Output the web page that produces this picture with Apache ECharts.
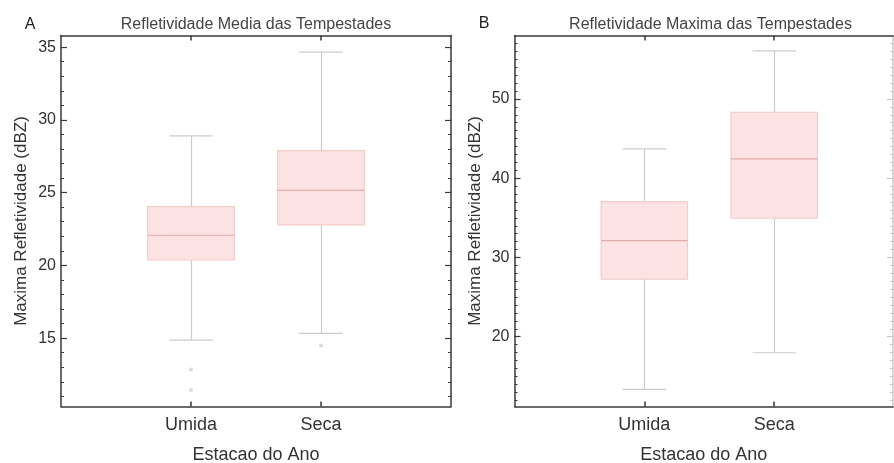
<!DOCTYPE html>
<html><head><meta charset="utf-8">
<script src="https://cdn.jsdelivr.net/npm/echarts@6/dist/echarts.min.js"></script>
<style>html,body{margin:0;padding:0;background:#fff}#c{width:894px;height:463px}</style>
</head><body><div id="c"></div>
<script>
// ---- data ----
const categories = ['Umida', 'Seca'];
const categoryPositions = [1, 2];
// [min, Q1, median, Q3, max]
const mediaUmida = [14.86, 20.37, 22.07, 24.04, 28.9];
const mediaSeca = [15.32, 22.78, 25.16, 27.89, 34.66];
const mediaOutliers = [[1, 12.85], [1, 11.43], [2, 14.5]];
const maximaUmida = [13.35, 27.26, 32.12, 37.05, 43.7];
const maximaSeca = [17.98, 34.95, 42.44, 48.32, 56.06];
const maximaOutliers = [];
const yTicksA = [15, 20, 25, 30, 35];
const yTicksB = [20, 30, 40, 50];
const titleA = 'Refletividade Media das Tempestades';
const titleB = 'Refletividade Maxima das Tempestades';
const xName = 'Estacao do Ano';
const yName = 'Maxima Refletividade (dBZ)';

function intRange(a, b) { const r = []; for (let i = a; i <= b; i++) r.push(i); return r; }
const yMinorA = intRange(11, 35);
const yMinorB = intRange(12, 57);

// ---- style ----
const font = 'Liberation Sans, Arial, Helvetica, sans-serif';
const frame = '#3a3a3a';
const boxFill = '#fde3e3';
const boxStroke = '#f3cccc';
const medianColor = '#e2adad';
const whiskerColor = '#cccccc';

function xAxes(gridIndex, max) {
  const base = {
    type: 'value', gridIndex, min: 0, max,
    axisLine: { show: true, onZero: false, lineStyle: { color: frame, width: 1.5 } },
    axisTick: { show: true, inside: true, length: 5, customValues: categoryPositions, lineStyle: { color: frame, width: 1.5 } },
    splitLine: { show: false }
  };
  return [
    Object.assign({}, base, {
      position: 'bottom',
      axisLabel: {
        show: true, customValues: categoryPositions, margin: 10,
        formatter: v => { const i = categoryPositions.indexOf(v); return i >= 0 ? categories[i] : ''; },
        fontSize: 18, color: '#333', fontFamily: font
      },
      name: xName, nameLocation: 'middle', nameGap: 40,
      nameTextStyle: { fontSize: 18, color: '#333', fontFamily: font }
    }),
    Object.assign({}, base, { position: 'top', axisLabel: { show: false } })
  ];
}

function yAxes(gridIndex, min, max, majors, minors, rightColor) {
  const common = { type: 'value', gridIndex, min, max, splitLine: { show: false } };
  return [
    Object.assign({}, common, {
      position: 'left',
      axisLine: { show: true, onZero: false, lineStyle: { color: frame, width: 1.5 } },
      axisTick: { show: true, inside: true, length: 6, customValues: majors, lineStyle: { color: frame, width: 1.2 } },
      axisLabel: { show: true, customValues: majors, margin: 5, fontSize: 16, color: '#333', fontFamily: font },
      name: yName, nameLocation: 'middle', nameGap: 31,
      nameTextStyle: { fontSize: 17, color: '#333', fontFamily: font }
    }),
    Object.assign({}, common, {
      position: 'left',
      axisLine: { show: false, onZero: false },
      axisTick: { show: true, inside: true, length: 3, customValues: minors, lineStyle: { color: frame, width: 1 } },
      axisLabel: { show: false }
    }),
    Object.assign({}, common, {
      position: 'right',
      axisLine: { show: true, onZero: false, lineStyle: { color: rightColor, width: 1.5 } },
      axisTick: { show: true, inside: true, length: 6, customValues: majors, lineStyle: { color: rightColor, width: 1.2 } },
      axisLabel: { show: false }
    }),
    Object.assign({}, common, {
      position: 'right',
      axisLine: { show: false, onZero: false },
      axisTick: { show: true, inside: true, length: 3, customValues: minors, lineStyle: { color: rightColor, width: 1 } },
      axisLabel: { show: false }
    })
  ];
}

const BOX_HALF = 0.333;
const CAP_HALF = 0.167;
function renderBox(params, api) {
  const x = api.value(0);
  const lo = api.value(1), q1 = api.value(2), med = api.value(3), q3 = api.value(4), hi = api.value(5);
  const c = api.coord([x, med]);
  const cx = Math.round(c[0]) + 0.5;
  const yLo = api.coord([x, lo])[1], yQ1 = api.coord([x, q1])[1], yMed = c[1];
  const yQ3 = api.coord([x, q3])[1], yHi = api.coord([x, hi])[1];
  const bl = api.coord([x - BOX_HALF, med])[0], br = api.coord([x + BOX_HALF, med])[0];
  const cl = api.coord([x - CAP_HALF, med])[0], cr = api.coord([x + CAP_HALF, med])[0];
  const wl = { stroke: whiskerColor, lineWidth: 1.2 };
  return {
    type: 'group',
    children: [
      { type: 'line', shape: { x1: cx, y1: yHi, x2: cx, y2: yQ3 }, style: wl },
      { type: 'line', shape: { x1: cx, y1: yQ1, x2: cx, y2: yLo }, style: wl },
      { type: 'line', shape: { x1: cl, y1: yHi, x2: cr, y2: yHi }, style: wl },
      { type: 'line', shape: { x1: cl, y1: yLo, x2: cr, y2: yLo }, style: wl },
      { type: 'rect', shape: { x: bl, y: yQ3, width: br - bl, height: yQ1 - yQ3 }, style: { fill: boxFill, stroke: boxStroke, lineWidth: 1.2 } },
      { type: 'line', shape: { x1: bl, y1: yMed, x2: br, y2: yMed }, style: { stroke: medianColor, lineWidth: 1.2 } }
    ]
  };
}

function boxData(list) { return list.map((v, i) => [categoryPositions[i]].concat(v)); }

const option = {
  animation: false,
  backgroundColor: '#fff',
  grid: [
    { left: 61, top: 35.5, right: 443, bottom: 56.5, outerBoundsMode: 'none', containLabel: false },
    { left: 514.5, top: 35.5, right: 1, bottom: 56.5, outerBoundsMode: 'none', containLabel: false }
  ],
  xAxis: xAxes(0, 3).concat(xAxes(1, 2.915)),
  yAxis: yAxes(0, 10.3, 35.8, yTicksA, yMinorA, frame).concat(yAxes(1, 11.2, 58.0, yTicksB, yMinorB, '#c8c8c8')),
  series: [
    { type: 'custom', xAxisIndex: 0, yAxisIndex: 0, renderItem: renderBox, encode: { x: 0, y: [1, 2, 3, 4, 5] }, data: boxData([mediaUmida, mediaSeca]), z: 2 },
    { type: 'scatter', xAxisIndex: 0, yAxisIndex: 0, data: mediaOutliers, symbolSize: 4, itemStyle: { color: '#d2d2d2' }, z: 3 },
    { type: 'custom', xAxisIndex: 2, yAxisIndex: 4, renderItem: renderBox, encode: { x: 0, y: [1, 2, 3, 4, 5] }, data: boxData([maximaUmida, maximaSeca]), z: 2 },
    { type: 'scatter', xAxisIndex: 2, yAxisIndex: 4, data: maximaOutliers, symbolSize: 4, itemStyle: { color: '#d2d2d2' }, z: 3 }
  ],
  graphic: [
    { type: 'text', x: 30, y: 25, style: { text: 'A', font: '16px ' + font, fill: '#222', textAlign: 'center', textVerticalAlign: 'middle' } },
    { type: 'text', x: 484, y: 24, style: { text: 'B', font: '16px ' + font, fill: '#222', textAlign: 'center', textVerticalAlign: 'middle' } },
    { type: 'text', x: 256, y: 24.5, style: { text: titleA, font: '16px ' + font, fill: '#444', textAlign: 'center', textVerticalAlign: 'middle' } },
    { type: 'text', x: 710.5, y: 24.5, style: { text: titleB, font: '16px ' + font, fill: '#444', textAlign: 'center', textVerticalAlign: 'middle' } }
  ]
};

const chart = echarts.init(document.getElementById('c'), null, { renderer: 'canvas' });
chart.setOption(option);
</script>
</body></html>
